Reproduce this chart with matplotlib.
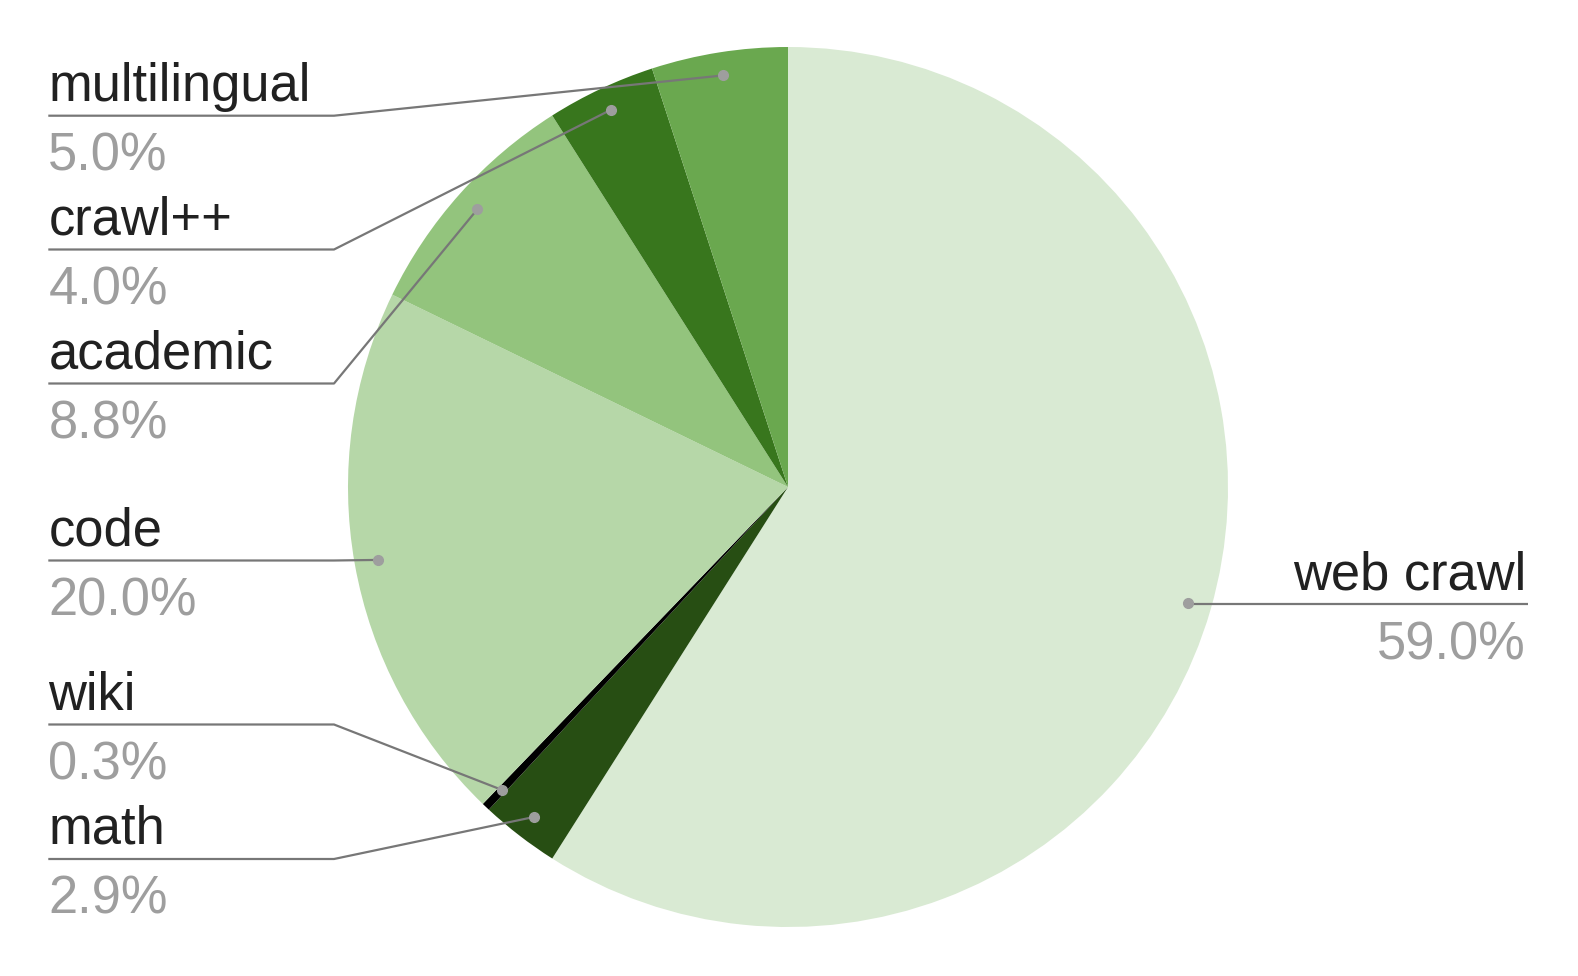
import numpy as np
import matplotlib
matplotlib.use("Agg")
import matplotlib.pyplot as plt

# Datos (en orden, sentido horario desde arriba)
categories = ["web crawl", "math", "wiki", "code", "academic", "crawl++", "multilingual"]
shares = [59.0, 2.9, 0.3, 20.0, 8.8, 4.0, 5.0]
pct_labels = ["59.0%", "2.9%", "0.3%", "20.0%", "8.8%", "4.0%", "5.0%"]
colors = ["#d9ead3", "#274e13", "#000000", "#b6d7a8", "#93c47d", "#38761d", "#6aa84f"]

# Configuración del lienzo (en píxeles)
W, H = 1578, 976
CX, CY, R = 788, 487, 440
DOT_R = 0.947 * R
FONT = "Liberation Sans"
FS = 37.8

# Posición de la línea de cada etiqueta: (lado, y de la línea)
label_side = ["right", "left", "left", "left", "left", "left", "left"]
label_line_y = [604, 859, 724.5, 560.5, 383.5, 249.5, 115.7]
LEFT_X, ELBOW_X, RIGHT_X = 48.3, 334, 1528

fig = plt.figure(figsize=(W / 100, H / 100), dpi=100)
ax = fig.add_axes([0, 0, 1, 1])

# Eje y invertido: inicio en -90 y sentido antihorario en datos = horario en pantalla
ax.pie(shares, colors=colors, startangle=-90, counterclock=True,
       center=(CX, CY), radius=R, frame=True,
       wedgeprops=dict(linewidth=0))
ax.set_xlim(0, W)
ax.set_ylim(H, 0)
ax.set_aspect("equal")
ax.axis("off")

cum = np.cumsum([0] + shares[:-1])
for i, name in enumerate(categories):
    theta = np.deg2rad(-90 + 360 * (cum[i] + shares[i] / 2) / 100)
    dx = CX + DOT_R * np.cos(theta)
    dy = CY + DOT_R * np.sin(theta)
    ly = label_line_y[i]
    if label_side[i] == "left":
        ax.plot([dx, ELBOW_X, LEFT_X], [dy, ly, ly], color="#777777", lw=1.6,
                solid_capstyle="butt", zorder=3)
        ax.text(LEFT_X, ly - 15, name, ha="left", va="baseline",
                fontsize=FS, family=FONT, color="#212121")
        ax.text(LEFT_X, ly + 55, pct_labels[i], ha="left", va="baseline",
                fontsize=FS, family=FONT, color="#9e9e9e")
    else:
        ax.plot([dx, RIGHT_X], [ly, ly], color="#777777", lw=1.6,
                solid_capstyle="butt", zorder=3)
        ax.text(RIGHT_X - 2, ly - 15, name, ha="right", va="baseline",
                fontsize=FS, family=FONT, color="#212121")
        ax.text(RIGHT_X - 2, ly + 55, pct_labels[i], ha="right", va="baseline",
                fontsize=FS, family=FONT, color="#9e9e9e")
    ax.plot([dx], [dy], "o", color="#9e9e9e", markersize=7, zorder=4)

fig.savefig("out.png", dpi=100, facecolor="white")
